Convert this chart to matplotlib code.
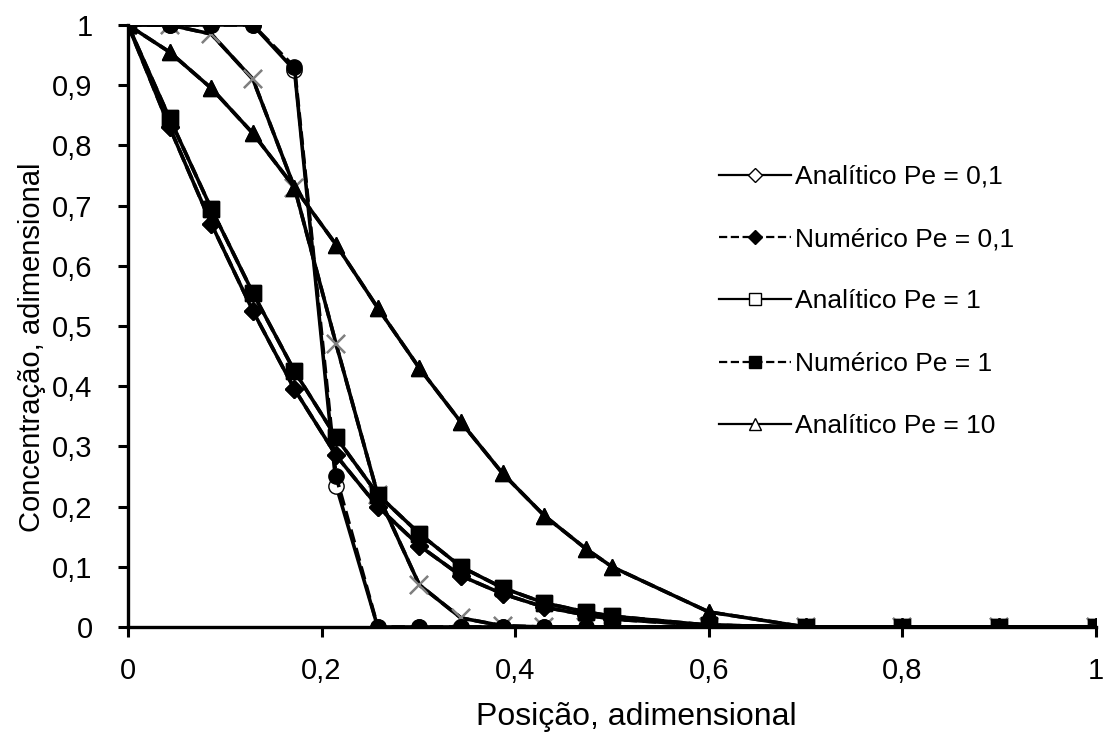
import numpy as np
import matplotlib
matplotlib.use("Agg")
import matplotlib.pyplot as plt
from matplotlib.ticker import FuncFormatter
from matplotlib.lines import Line2D

plt.rcParams['font.family'] = ['Liberation Sans', 'DejaVu Sans']

x = [0, 0.043, 0.086, 0.129, 0.172, 0.215, 0.258, 0.301, 0.344, 0.387, 0.43,
     0.473, 0.5, 0.6, 0.7, 0.8, 0.9, 1.0]

an_pe01 = [1, 0.83, 0.67, 0.525, 0.395, 0.285, 0.20, 0.135, 0.085, 0.055, 0.033,
           0.02, 0.013, 0.003, 0, 0, 0, 0]
num_pe01 = [1, 0.83, 0.67, 0.525, 0.395, 0.285, 0.20, 0.135, 0.085, 0.055, 0.033,
            0.02, 0.013, 0.003, 0, 0, 0, 0]
an_pe1 = [1, 0.845, 0.695, 0.555, 0.425, 0.315, 0.22, 0.155, 0.10, 0.065, 0.04,
          0.025, 0.018, 0.003, 0, 0, 0, 0]
num_pe1 = [1, 0.845, 0.695, 0.555, 0.425, 0.315, 0.22, 0.155, 0.10, 0.065, 0.04,
           0.025, 0.018, 0.003, 0, 0, 0, 0]
an_pe10 = [1, 0.955, 0.895, 0.82, 0.73, 0.635, 0.53, 0.43, 0.34, 0.255, 0.185,
           0.13, 0.10, 0.025, 0, 0, 0, 0]
num_pe10 = [1, 0.955, 0.895, 0.82, 0.73, 0.635, 0.53, 0.43, 0.34, 0.255, 0.185,
            0.13, 0.10, 0.025, 0, 0, 0, 0]
an_pe100 = [1, 1, 0.985, 0.91, 0.73, 0.47, 0.22, 0.07, 0.015, 0.002, 0,
            0, 0, 0, 0, 0, 0, 0]
num_pe100 = [1, 1, 0.985, 0.91, 0.73, 0.47, 0.22, 0.07, 0.015, 0.002, 0,
             0, 0, 0, 0, 0, 0, 0]
an_pe1000 = [1, 1, 1, 1, 0.925, 0.235, 0, 0, 0, 0, 0, 0, 0, 0, 0, 0, 0, 0]
num_pe1000 = [1, 1, 1, 1, 0.93, 0.25, 0, 0, 0, 0, 0, 0, 0, 0, 0, 0, 0, 0]

labels = ["Analítico Pe = 0,1", "Numérico Pe = 0,1", "Analítico Pe = 1",
          "Numérico Pe = 1", "Analítico Pe = 10"]

fig = plt.figure(figsize=(11.09, 7.34), dpi=100)
ax = fig.add_axes([0.1154, 0.1458, 0.8729, 0.8202])

lw = 2.6
ms = 11
ax.plot(x, an_pe100, '-', color='black', lw=lw, marker='x', ms=ms*1.2,
        mec='#808080', mew=1.6, zorder=2)
ax.plot(x, num_pe100, '--', color='black', lw=lw, marker='x', ms=ms*1.2,
        mec='#808080', mew=1.6, zorder=2)
ax.plot(x, an_pe01, '-', color='black', lw=lw, marker='D', ms=ms*0.8,
        mfc='white', mec='black', zorder=3)
ax.plot(x, num_pe01, '--', color='black', lw=lw, marker='D', ms=ms*0.8,
        mfc='black', mec='black', zorder=4)
ax.plot(x, an_pe1, '-', color='black', lw=lw, marker='s', ms=ms,
        mfc='white', mec='black', zorder=3)
ax.plot(x, num_pe1, '--', color='black', lw=lw, marker='s', ms=ms,
        mfc='black', mec='black', zorder=4)
ax.plot(x, an_pe10, '-', color='black', lw=lw, marker='^', ms=ms,
        mfc='white', mec='black', zorder=3)
ax.plot(x, num_pe10, '--', color='black', lw=lw, marker='^', ms=ms,
        mfc='black', mec='black', zorder=4)
ax.plot(x, an_pe1000, '-', color='black', lw=lw, marker='o', ms=ms,
        mfc='white', mec='black', zorder=5)
ax.plot(x, num_pe1000, '--', color='black', lw=lw, marker='o', ms=ms,
        mfc='black', mec='black', zorder=6)

leg_handles = [
    Line2D([], [], ls='-', color='black', lw=1.6, marker='D', ms=7, mfc='white', mec='black'),
    Line2D([], [], ls='--', color='black', lw=1.6, marker='D', ms=7, mfc='black', mec='black'),
    Line2D([], [], ls='-', color='black', lw=1.6, marker='s', ms=9, mfc='white', mec='black'),
    Line2D([], [], ls='--', color='black', lw=1.6, marker='s', ms=9, mfc='black', mec='black'),
    Line2D([], [], ls='-', color='black', lw=1.6, marker='^', ms=8, mfc='white', mec='black'),
]
ax.legend(leg_handles, labels, loc='upper left', bbox_to_anchor=(0.6, 0.785),
          frameon=False, fontsize=19, handlelength=2.7, handletextpad=0.15,
          labelspacing=1.45, borderaxespad=0)

ax.set_xlim(0, 1)
ax.set_ylim(0, 1)
ax.set_xticks(np.arange(0, 1.01, 0.2))
ax.set_yticks(np.arange(0, 1.01, 0.1))

def fmt(v, pos):
    s = f"{v:.1f}".rstrip('0').rstrip('.')
    return s.replace('.', ',')

ax.xaxis.set_major_formatter(FuncFormatter(fmt))
ax.yaxis.set_major_formatter(FuncFormatter(fmt))
ax.tick_params(axis='both', direction='out', length=7.5, width=2.2, labelsize=21)
ax.tick_params(axis='y', pad=18)
ax.tick_params(axis='x', pad=14)

for s in ['top', 'right']:
    ax.spines[s].set_visible(False)
for s in ['left', 'bottom']:
    ax.spines[s].set_linewidth(2.4)

ax.set_xlabel("Posição, adimensional", fontsize=23, labelpad=10)
ax.xaxis.set_label_coords(0.525, -0.125)
ax.set_ylabel("Concentração, adimensional", fontsize=21)
ax.yaxis.set_label_coords(-0.085, 0.465)

fig.savefig("out.png", dpi=100)
